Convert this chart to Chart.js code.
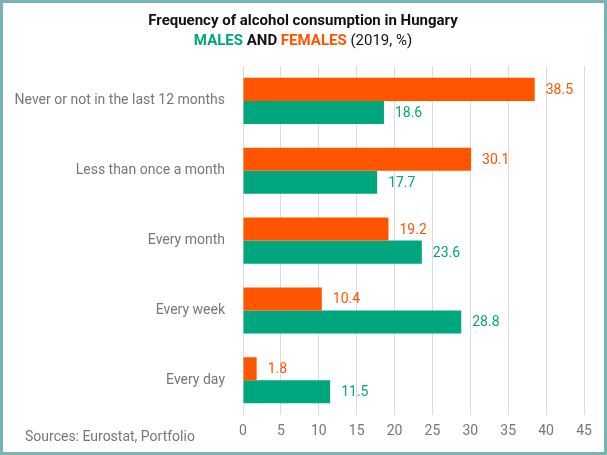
<!DOCTYPE html>
<html>
<head>
<meta charset="utf-8">
<script src="https://cdn.jsdelivr.net/npm/chart.js@4/dist/chart.umd.min.js"></script>
<style>
  html, body { margin: 0; padding: 0; background: #fff; }
  #wrap { width: 607px; height: 455px; box-sizing: border-box; border: 3px solid #79b4b4; }
  canvas { display: block; }
</style>
</head>
<body>
<div id="wrap"><canvas id="c" width="601" height="449"></canvas></div>
<script>
const categories = ['Never or not in the last 12 months', 'Less than once a month', 'Every month', 'Every week', 'Every day'];
const females = [38.5, 30.1, 19.2, 10.4, 1.8];
const males = [18.6, 17.7, 23.6, 28.8, 11.5];
const GREEN = '#00a67e';
const ORANGE = '#ff5500';
const FONT = 'Roboto, sans-serif';

const extras = {
  id: 'extras',
  afterDatasetsDraw(chart) {
    const ctx = chart.ctx;
    ctx.save();
    ctx.font = '14px ' + FONT;
    ctx.textBaseline = 'middle';
    ctx.textAlign = 'left';
    chart.data.datasets.forEach((ds, i) => {
      chart.getDatasetMeta(i).data.forEach((bar, j) => {
        ctx.fillStyle = ds.backgroundColor;
        ctx.fillText(ds.data[j].toFixed(1), bar.x + 11, bar.y + 1);
      });
    });
    // title
    ctx.textAlign = 'center';
    ctx.fillStyle = '#111';
    ctx.font = 'bold 15px ' + FONT;
    ctx.fillText('Frequency of alcohol consumption in Hungary', 300, 18);
    const parts = [['MALES', GREEN, 'bold'], [' AND ', '#111', 'bold'], ['FEMALES', ORANGE, 'bold'], [' (2019, %)', '#111', 'normal']];
    let total = 0;
    parts.forEach(p => { ctx.font = p[2] + ' 15px ' + FONT; total += ctx.measureText(p[0]).width; });
    let x = 300 - total / 2;
    ctx.textAlign = 'left';
    parts.forEach(p => {
      ctx.font = p[2] + ' 15px ' + FONT;
      ctx.fillStyle = p[1];
      ctx.fillText(p[0], x, 38);
      x += ctx.measureText(p[0]).width;
    });
    ctx.font = '14px ' + FONT;
    ctx.fillStyle = '#777';
    ctx.fillText('Sources: Eurostat, Portfolio', 22, 434);
    ctx.restore();
  }
};

new Chart(document.getElementById('c'), {
  type: 'bar',
  data: {
    labels: categories,
    datasets: [
      { label: 'Females', data: females, backgroundColor: ORANGE },
      { label: 'Males', data: males, backgroundColor: GREEN }
    ]
  },
  options: {
    indexAxis: 'y',
    responsive: false,
    animation: false,
    layout: { padding: { top: 63, right: 20, bottom: 4, left: 0 } },
    datasets: { bar: { categoryPercentage: 0.66, barPercentage: 1 } },
    plugins: { legend: { display: false }, tooltip: { enabled: false } },
    scales: {
      x: {
        min: 0, max: 45,
        ticks: { stepSize: 5, color: '#777', font: { family: FONT, size: 14 }, padding: 8 },
        grid: { color: '#dcdcdc', drawTicks: false },
        border: { display: false }
      },
      y: {
        afterFit(scale) { scale.width = 240; },
        ticks: { color: '#777', font: { family: FONT, size: 14 }, padding: 10 },
        grid: { display: false },
        border: { display: false }
      }
    }
  },
  plugins: [extras]
});
</script>
</body>
</html>
